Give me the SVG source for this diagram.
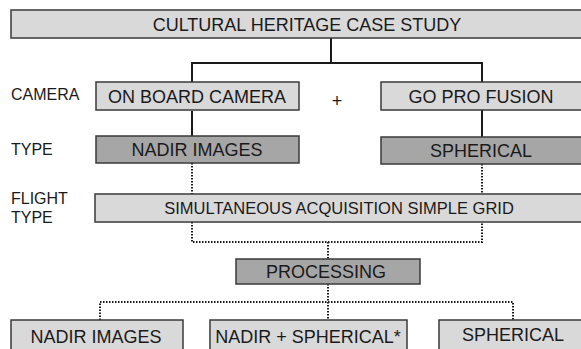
<svg xmlns="http://www.w3.org/2000/svg" width="581" height="349" viewBox="0 0 581 349">
<style>
text{font-family:"Liberation Sans",Arial,sans-serif;fill:#1a1a1a}
.b{font-size:18px;text-anchor:middle}
.l{font-size:16px}
.lt{fill:#d9d9d9;stroke:#3a3a3a;stroke-width:1.5}
.dk{fill:#a6a6a6;stroke:#3a3a3a;stroke-width:1.5}
.s{fill:none;stroke:#1a1a1a;stroke-width:2}
.d{fill:none;stroke:#1a1a1a;stroke-width:2;stroke-dasharray:1.5 1.5}
</style>
<rect width="581" height="349" fill="#fff"/>
<g id="connectors">
<path class="s" d="M331 38V63M192 83V63H482V83"/>
<path class="s" d="M192 111V137M482 110V138"/>
<path class="d" d="M192 163V194M482 164V194"/>
<path class="d" d="M192 222V242H482V222M328 242V259"/>
<path class="d" d="M328 284V302M100 320V302H513V320M328 302V320"/>
</g>
<g id="labels">
<text class="l" x="11" y="100">CAMERA</text>
<text class="l" x="11" y="155">TYPE</text>
<text class="l" x="11" y="204">FLIGHT</text>
<text class="l" x="11" y="223">TYPE</text>
<text class="b" x="337" y="107">+</text>
</g>
<g id="n-top"><rect class="lt" x="11" y="10" width="580" height="28"/><text class="b" x="307" y="31">CULTURAL HERITAGE CASE STUDY</text></g>
<g id="n-onboard"><rect class="lt" x="96" y="82" width="203" height="28"/><text class="b" x="197" y="103">ON BOARD CAMERA</text></g>
<g id="n-gopro"><rect class="lt" x="381" y="82" width="210" height="28"/><text class="b" x="481" y="103">GO PRO FUSION</text></g>
<g id="n-nadir"><rect class="dk" x="96" y="136" width="203" height="27"/><text class="b" x="197" y="156">NADIR IMAGES</text></g>
<g id="n-spherical"><rect class="dk" x="381" y="137" width="210" height="27"/><text class="b" x="481" y="157">SPHERICAL</text></g>
<g id="n-sim"><rect class="lt" x="95" y="194" width="496" height="28"/><text class="b" x="339" y="214" style="font-size:16.5px">SIMULTANEOUS ACQUISITION SIMPLE GRID</text></g>
<g id="n-proc"><rect class="dk" x="236" y="259" width="184" height="25"/><text class="b" x="326" y="278">PROCESSING</text></g>
<g id="n-out-nadir"><rect class="lt" x="11" y="320" width="172" height="40"/><text class="b" x="96" y="343">NADIR IMAGES</text></g>
<g id="n-out-both"><rect class="lt" x="210" y="320" width="197" height="40"/><text class="b" x="308" y="343">NADIR + SPHERICAL*</text></g>
<g id="n-out-sph"><rect class="lt" x="439" y="320" width="152" height="40"/><text class="b" x="513" y="341">SPHERICAL</text></g>
</svg>
